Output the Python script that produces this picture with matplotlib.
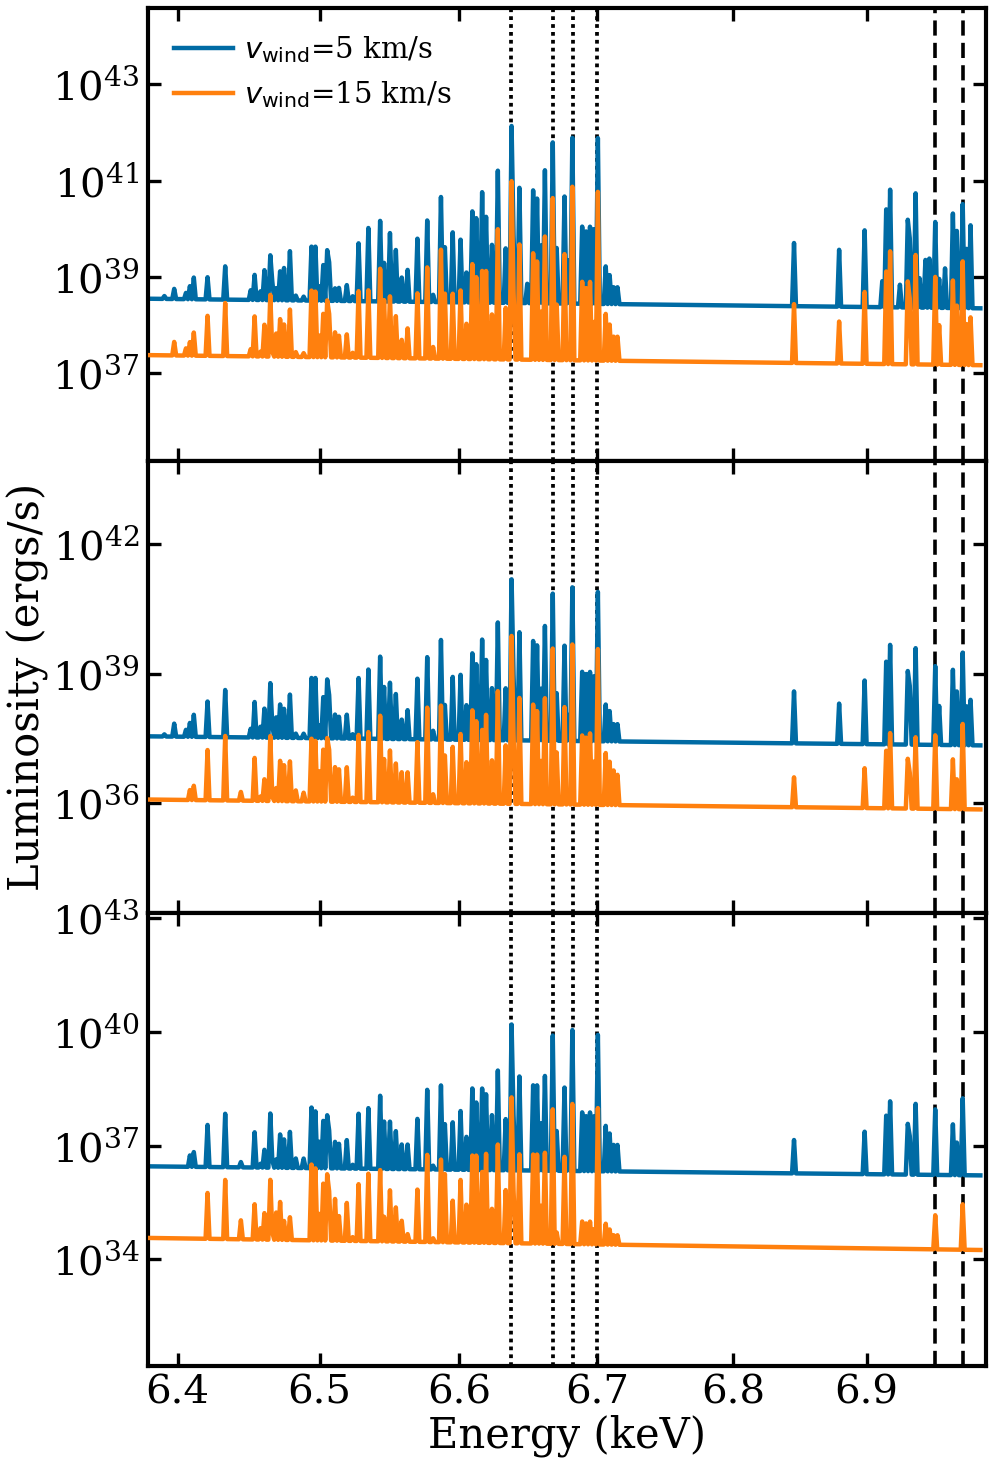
import numpy as np
import matplotlib.pyplot as plt
from matplotlib.ticker import FixedLocator, FuncFormatter, NullLocator

plt.rcParams['font.family'] = 'serif'
plt.rcParams['font.size'] = 30

# line centres (keV) and peak heights above the continuum (dex) for each panel
line_energy = [
    6.3911, 6.3970, 6.4054, 6.4089, 6.4117, 6.4213, 6.4333, 6.4441, 6.4507, 6.4539,
    6.4577, 6.4614, 6.4644, 6.4671, 6.4693, 6.4719, 6.4749, 6.4784, 6.4837, 6.4884,
    6.4946, 6.4963, 6.4994, 6.5020, 6.5050, 6.5069, 6.5109, 6.5142, 6.5199, 6.5229,
    6.5283, 6.5353, 6.5425, 6.5464, 6.5507, 6.5539, 6.5585, 6.5632, 6.5701, 6.5763,
    6.5811, 6.5860, 6.5895, 6.5952, 6.6004, 6.6051, 6.6096, 6.6125, 6.6159, 6.6196,
    6.6231, 6.6279, 6.6332, 6.6370, 6.6394, 6.6437, 6.6486, 6.6534, 6.6557, 6.6595,
    6.6616, 6.6670, 6.6703, 6.6758, 6.6786, 6.6821, 6.6891, 6.6923, 6.6953, 6.6977,
    6.7000, 6.7060, 6.7088, 6.7123, 6.7150, 6.8449, 6.8788, 6.8980, 6.9125, 6.9155,
    6.9185, 6.9246, 6.9307, 6.9331, 6.9365, 6.9403, 6.9441, 6.9479, 6.9516, 6.9542,
    6.9600, 6.9660, 6.9688, 6.9730, 6.9758, 6.9785,
]
top_blue = [
    0.06, 0.21, 0.13, 0.27, 0.45, 0.46, 0.69, 0.00, 0.20, 0.52,
    0.18, 0.62, 0.93, 0.39, 0.25, 0.60, 0.67, 1.02, 0.10, 0.08,
    1.12, 1.12, 0.30, 0.74, 1.05, 0.80, 0.26, 0.27, 0.33, 0.10,
    1.20, 1.52, 1.67, 0.80, 1.42, 1.07, 0.50, 0.66, 1.31, 1.69,
    0.15, 2.18, 1.14, 1.45, 1.30, 0.62, 1.89, 1.75, 2.29, 1.78,
    1.20, 2.74, 1.13, 3.67, 1.40, 2.39, 0.40, 2.34, 2.17, 1.20,
    2.76, 3.34, 1.15, 2.22, 0.90, 3.44, 1.60, 1.50, 1.60, 1.55,
    3.44, 0.78, 0.60, 0.35, 0.35, 1.31, 1.18, 1.59, 0.54, 2.03,
    2.44, 0.47, 1.82, 1.44, 2.37, 0.61, 0.99, 1.02, 1.78, 0.60,
    0.82, 1.96, 1.60, 2.16, 1.23, 1.72,
]
top_orange = [
    0.00, 0.28, 0.15, 0.28, 0.48, 0.83, 1.10, 0.00, 0.15, 0.83,
    0.10, 0.66, 1.28, 0.10, 0.48, 0.78, 0.67, 0.98, 0.10, 0.08,
    1.38, 1.36, 0.45, 0.90, 1.18, 0.90, 0.52, 0.45, 0.48, 0.10,
    1.38, 1.40, 1.85, 1.20, 1.28, 0.87, 0.38, 0.62, 1.35, 1.89,
    0.24, 2.26, 1.35, 1.35, 1.42, 0.73, 1.97, 1.70, 1.83, 1.83,
    0.93, 2.70, 1.07, 3.70, 1.42, 2.39, 0.00, 2.21, 2.04, 1.00,
    2.56, 3.36, 1.15, 2.20, 0.30, 3.60, 1.63, 1.50, 1.63, 0.80,
    3.50, 0.97, 0.75, 0.50, 0.50, 1.22, 0.87, 1.49, 0.00, 1.92,
    2.34, 0.00, 1.72, 1.37, 2.27, 0.00, 0.00, 0.00, 1.82, 0.82,
    0.00, 1.75, 1.23, 2.15, 0.85, 0.99,
]
mid_blue = [
    0.05, 0.30, 0.16, 0.32, 0.51, 0.82, 1.09, 0.00, 0.20, 0.82,
    0.25, 0.67, 1.26, 0.30, 0.47, 0.77, 0.67, 1.00, 0.10, 0.10,
    1.39, 1.39, 0.30, 0.95, 1.36, 1.00, 0.55, 0.50, 0.55, 0.10,
    1.40, 1.60, 1.90, 1.20, 1.30, 1.04, 0.45, 0.67, 1.40, 1.90,
    0.20, 2.30, 0.80, 1.45, 1.50, 0.80, 2.00, 1.75, 2.32, 1.85,
    1.20, 2.72, 1.20, 3.72, 1.50, 2.50, 0.00, 2.30, 2.20, 1.20,
    2.65, 3.40, 1.10, 2.20, 0.60, 3.55, 1.60, 1.55, 1.60, 1.50,
    3.45, 0.85, 0.70, 0.40, 0.40, 1.20, 0.93, 1.47, 0.00, 1.91,
    2.30, 0.00, 1.70, 1.36, 2.23, 0.00, 0.00, 0.00, 1.82, 0.90,
    0.00, 1.74, 1.24, 2.14, 0.90, 1.05,
]
mid_orange = [
    0.00, 0.00, 0.00, 0.23, 0.33, 1.16, 1.49, 0.20, 0.00, 0.99,
    0.10, 0.50, 1.50, 0.10, 0.30, 0.93, 0.83, 0.92, 0.25, 0.20,
    1.45, 1.40, 0.70, 1.20, 1.47, 1.20, 0.80, 0.75, 0.80, 0.10,
    1.55, 1.62, 2.00, 1.00, 1.20, 0.90, 0.70, 0.70, 1.40, 2.20,
    0.20, 2.25, 1.10, 1.30, 1.60, 0.95, 2.15, 1.90, 1.70, 2.05,
    1.00, 2.60, 1.35, 3.88, 1.60, 2.45, 0.00, 2.30, 2.15, 1.00,
    2.45, 3.60, 1.20, 2.25, 0.30, 3.70, 1.60, 1.55, 1.65, 1.00,
    3.60, 1.20, 1.00, 0.80, 0.70, 0.69, 0.00, 0.92, 0.00, 1.33,
    1.74, 0.00, 1.15, 0.83, 1.65, 0.00, 0.00, 0.00, 1.70, 0.00,
    0.00, 1.15, 0.69, 1.97, 0.00, 0.00,
]
bot_blue = [
    0.00, 0.00, 0.00, 0.30, 0.39, 1.11, 1.41, 0.14, 0.00, 0.93,
    0.10, 0.47, 1.43, 0.20, 0.22, 0.88, 0.75, 0.95, 0.25, 0.25,
    1.60, 1.50, 0.70, 1.25, 1.40, 1.00, 0.70, 0.65, 0.75, 0.10,
    1.45, 1.60, 1.93, 1.25, 1.25, 1.00, 0.65, 0.65, 1.33, 2.10,
    0.10, 2.22, 1.20, 1.25, 1.55, 0.87, 2.15, 1.78, 2.15, 2.00,
    1.45, 2.63, 1.35, 3.85, 1.45, 2.48, 0.00, 2.25, 2.25, 1.25,
    2.50, 3.57, 1.05, 2.20, 0.30, 3.72, 1.55, 1.45, 1.55, 1.45,
    3.60, 1.20, 1.00, 0.70, 0.70, 0.88, 0.00, 1.12, 0.00, 1.55,
    1.93, 0.00, 1.34, 1.02, 1.87, 0.00, 0.00, 0.00, 1.73, 0.00,
    0.00, 1.34, 0.86, 2.03, 0.00, 0.00,
]
bot_orange = [
    0.00, 0.00, 0.00, 0.00, 0.00, 1.21, 1.56, 0.50, 0.00, 0.93,
    0.30, 0.70, 1.58, 0.20, 0.72, 1.00, 0.50, 0.60, 0.00, 0.00,
    2.00, 1.90, 0.70, 1.50, 1.75, 1.30, 1.10, 0.65, 1.00, 0.10,
    1.50, 1.78, 1.88, 0.65, 1.35, 0.90, 0.55, 0.20, 1.38, 2.30,
    0.10, 2.18, 1.80, 1.10, 1.65, 1.00, 2.30, 2.30, 1.87, 2.35,
    0.90, 2.60, 1.40, 3.85, 1.40, 2.35, 0.00, 2.35, 2.35, 1.00,
    2.40, 3.55, 0.30, 2.30, 0.00, 3.70, 0.60, 0.55, 0.60, 0.40,
    3.60, 0.55, 0.40, 0.25, 0.25, 0.00, 0.00, 0.00, 0.00, 0.00,
    0.00, 0.00, 0.00, 0.00, 0.00, 0.00, 0.00, 0.00, 0.90, 0.00,
    0.00, 0.00, 0.00, 1.20, 0.00, 0.00,
]

# log10 of the continuum at 6.38 keV and 6.99 keV
top_cont = [(38.55, 38.35), (37.38, 37.17)]
mid_cont = [(37.55, 37.34), (36.09, 35.86)]
bot_cont = [(36.45, 36.21), (34.56, 34.24)]

labels = [r'$v_{\rm wind}$=5 km/s', r'$v_{\rm wind}$=15 km/s']
colors = ['#006BA4', '#FF800E']
fe25_lines = [6.637, 6.668, 6.682, 6.700]
fe26_lines = [6.952, 6.973]

edges = np.geomspace(6.36, 6.987, 440)
centres = np.sqrt(edges[1:] * edges[:-1])
e_lo, e_hi = 6.38, 6.99


def continuum(e, c):
    t = np.log10(e / e_lo) / np.log10(e_hi / e_lo)
    return c[0] + (c[1] - c[0]) * t


def spectrum(heights, c):
    e = np.array(line_energy)
    base = continuum(e, c)
    extra = 10.0 ** (base + np.array(heights)) - 10.0 ** base
    binned, _ = np.histogram(e, bins=edges, weights=extra)
    return 10.0 ** continuum(centres, c) + binned


panels = [
    (top_blue, top_orange, top_cont, (35.19, 44.58), [37, 39, 41, 43]),
    (mid_blue, mid_orange, mid_cont, (33.46, 43.92), [36, 39, 42]),
    (bot_blue, bot_orange, bot_cont, (31.18, 43.13), [34, 37, 40, 43]),
]

fig, axes = plt.subplots(3, 1, sharex=True, figsize=(9.92, 14.65))
fig.subplots_adjust(left=0.1492, right=0.994, top=0.9945, bottom=0.0676, hspace=0)

for ax, (hb, ho, cont, ylim, yt) in zip(axes, panels):
    for e in fe25_lines:
        ax.axvline(e, color='k', lw=2.7, ls=(0, (1, 1.1)), zorder=1)
    for e in fe26_lines:
        ax.axvline(e, color='k', lw=2.6, ls=(0, (4.2, 2.0)), zorder=1)
    ax.plot(centres, spectrum(hb, cont[0]), color=colors[0], lw=3.2, label=labels[0], zorder=2)
    ax.plot(centres, spectrum(ho, cont[1]), color=colors[1], lw=3.2, label=labels[1], zorder=3)
    ax.set_xscale('log')
    ax.set_yscale('log')
    ax.set_xlim(6.3793, 6.9906)
    ax.set_ylim(10.0 ** ylim[0], 10.0 ** ylim[1])
    ax.yaxis.set_major_locator(FixedLocator([10.0 ** v for v in yt]))
    ax.yaxis.set_minor_locator(NullLocator())
    ax.xaxis.set_major_locator(FixedLocator([6.4, 6.5, 6.6, 6.7, 6.8, 6.9]))
    ax.xaxis.set_minor_locator(NullLocator())
    ax.xaxis.set_major_formatter(FuncFormatter(lambda v, p: '%.1f' % v))
    ax.tick_params(which='both', direction='in', top=True, right=True,
                   length=9.5, width=2.4, labelsize=29, pad=6)
    for s in ax.spines.values():
        s.set_linewidth(3)

axes[0].legend(loc='upper left', frameon=False, fontsize=21,
               handlelength=2.0, handletextpad=0.4, borderaxespad=0.5)
axes[1].set_ylabel('Luminosity (ergs/s)')
axes[1].yaxis.set_label_coords(-0.118, 0.5)
axes[2].set_xlabel('Energy (keV)', labelpad=2)

fig.savefig('out.png', dpi=100)
